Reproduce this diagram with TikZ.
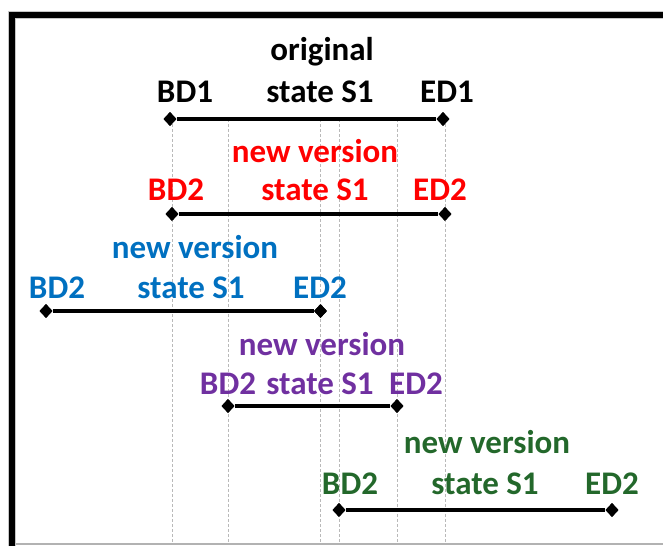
\documentclass[tikz,border=0pt]{standalone}
\usepackage{fontspec}
\setmainfont{Carlito}
\usetikzlibrary{shapes.geometric}
\definecolor{vred}{RGB}{255,0,0}
\definecolor{vblue}{RGB}{0,112,192}
\definecolor{vpurple}{RGB}{112,48,160}
\definecolor{vgreen}{RGB}{35,104,43}
\tikzset{
  lbl/.style={font=\fontsize{33}{39}\selectfont\bfseries, anchor=base, inner sep=0pt},
  endpt/.style={diamond, fill=black, draw=none, inner sep=0pt, minimum width=13pt, minimum height=14pt},
  span/.style={line width=3.3pt, black},
  guide/.style={gray!55, line width=0.9pt, dash pattern=on 3pt off 2pt},
}
\begin{document}
\begin{tikzpicture}[x=1pt, y=-1pt]
\useasboundingbox (0,0) rectangle (663,546);

% reference heights for the vertical guides
\coordinate (gtop) at (0,119);
\coordinate (gbot) at (0,544);

% interval end points
\node[endpt] (k-b) at (170,119) {};
\node[endpt] (k-e) at (443,119) {};
\node[endpt] (r-b) at (172,214) {};
\node[endpt] (r-e) at (445,214) {};
\node[endpt] (b-b) at (46,311) {};
\node[endpt] (b-e) at (320.5,311) {};
\node[endpt] (p-b) at (228,406) {};
\node[endpt] (p-e) at (397,406) {};
\node[endpt] (g-b) at (339,510) {};
\node[endpt] (g-e) at (612,510) {};

% vertical dashed guides
\foreach \n in {r-b,p-b,b-e,g-b,p-e,r-e}
  \draw[guide] (\n |- gtop) -- (\n |- gbot);

% intervals
\draw[span] (k-b) -- (k-e);
\draw[span] (r-b) -- (r-e);
\draw[span] (b-b) -- (b-e);
\draw[span] (p-b) -- (p-e);
\draw[span] (g-b) -- (g-e);
\foreach \n in {k-b,k-e,r-b,r-e,b-b,b-e,p-b,p-e,g-b,g-e}
  \node[endpt] at (\n) {};

% original state
\node[lbl] (k-t1) at (322,60) {original};
\node[lbl] (k-t2) at (320,102) {state S1};
\node[lbl] (k-l) at (185,102) {BD1};
\node[lbl] (k-r) at (447,102) {ED1};

% first new version
\node[lbl, text=vred] (r-t1) at (315,162) {new version};
\node[lbl, text=vred] (r-t2) at (315,200) {state S1};
\node[lbl, text=vred] (r-l) at (176,200) {BD2};
\node[lbl, text=vred] (r-r) at (440,200) {ED2};

% second new version
\node[lbl, text=vblue] (b-t1) at (195,258) {new version};
\node[lbl, text=vblue] (b-t2) at (191,298) {state S1};
\node[lbl, text=vblue] (b-l) at (57,298) {BD2};
\node[lbl, text=vblue] (b-r) at (320,298) {ED2};

% third new version
\node[lbl, text=vpurple] (p-t1) at (322,355) {new version};
\node[lbl, text=vpurple] (p-t2) at (320,394) {state S1};
\node[lbl, text=vpurple] (p-l) at (228,394) {BD2};
\node[lbl, text=vpurple] (p-r) at (416,394) {ED2};

% fourth new version
\node[lbl, text=vgreen] (g-t1) at (487,453) {new version};
\node[lbl, text=vgreen] (g-t2) at (485,494) {state S1};
\node[lbl, text=vgreen] (g-l) at (350,494) {BD2};
\node[lbl, text=vgreen] (g-r) at (612,494) {ED2};

% frame
\coordinate (f-bl) at (12,546);
\coordinate (f-tl) at (12,15);
\coordinate (f-tr) at (663,15);
\coordinate (f-bb) at (12,544);
\coordinate (f-br) at (663,544);
\draw[gray!60, line width=1.5pt] (f-bb) -- (f-br);
\draw[gray!45, line width=7.4pt] (f-bl) -- (f-tl) -- (f-tr);
\draw[black, line width=6pt] (f-bl) -- (f-tl) -- (f-tr);
\end{tikzpicture}
\end{document}
